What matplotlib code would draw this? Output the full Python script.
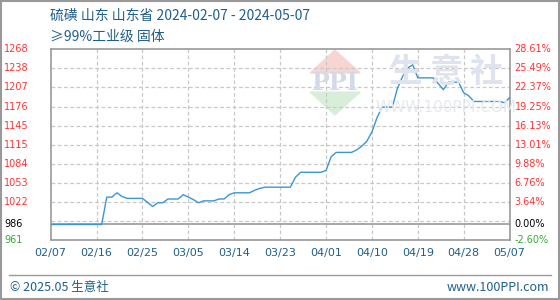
import pandas as pd
import matplotlib
matplotlib.use('Agg')
import matplotlib.pyplot as plt
from matplotlib.patches import Rectangle, Polygon
from matplotlib.lines import Line2D
import numpy as np

# datos: precio del azufre (Shandong), puntos de quiebre de la curva
fechas = ["2024-02-07", "2024-02-17", "2024-02-18", "2024-02-19", "2024-02-20",
          "2024-02-21", "2024-02-22", "2024-02-25", "2024-02-27", "2024-02-28",
          "2024-02-29", "2024-03-01", "2024-03-03", "2024-03-04", "2024-03-05",
          "2024-03-06", "2024-03-07", "2024-03-08", "2024-03-10", "2024-03-11",
          "2024-03-12", "2024-03-13", "2024-03-14", "2024-03-17", "2024-03-18",
          "2024-03-19", "2024-03-20", "2024-03-25", "2024-03-26", "2024-03-27",
          "2024-03-31", "2024-04-01", "2024-04-02", "2024-04-03", "2024-04-06",
          "2024-04-07", "2024-04-08", "2024-04-09", "2024-04-10", "2024-04-11",
          "2024-04-12", "2024-04-14", "2024-04-15", "2024-04-16", "2024-04-17",
          "2024-04-18", "2024-04-19", "2024-04-22", "2024-04-23", "2024-04-24",
          "2024-04-25", "2024-04-27", "2024-04-28", "2024-04-29", "2024-04-30",
          "2024-05-05", "2024-05-06", "2024-05-07"]
precios = [986, 986, 1030, 1030, 1037, 1031, 1028, 1028, 1015, 1021,
           1021, 1027, 1027, 1034, 1030, 1026, 1021, 1024, 1024, 1027,
           1027, 1034, 1037, 1037, 1041, 1044, 1046, 1046, 1062, 1070,
           1070, 1073, 1095, 1102, 1102, 1106, 1112, 1120, 1135, 1158,
           1175, 1175, 1205, 1224, 1238, 1243, 1222, 1222, 1213, 1203,
           1215, 1215, 1198, 1193, 1184, 1184, 1182, 1190]

x_labels = ["02/07", "02/16", "02/25", "03/05", "03/14", "03/23",
            "04/01", "04/10", "04/19", "04/28", "05/07"]
y_labels = ["961", "986", "1022", "1053", "1084", "1115", "1145", "1176", "1207", "1238", "1268"]
pct_labels = ["-2.60%", "0.00%", "3.64%", "6.76%", "9.88%", "13.01%",
              "16.13%", "19.25%", "22.37%", "25.49%", "28.61%"]

AZUL = '#1f5f8b'
ROJO = '#ff3333'
LINEA = '#3a96d6'
CJK = ['Noto Sans CJK SC', 'DejaVu Sans']

fechas = pd.to_datetime(fechas)
inicio = pd.Timestamp("2024-02-07")
fin = pd.Timestamp("2024-05-07")
ymin, ymax = 961, 1268
base = 986

fig = plt.figure(figsize=(5.6, 3.0), dpi=100)
ax = fig.add_axes([0.0905, 0.2, 0.8195, 0.6357])

# grilla: 10 intervalos iguales entre min y max
grid_y = np.linspace(ymin, ymax, 11)
for g in grid_y[1:-1]:
    ax.axhline(g, color='#c8c8c8', lw=0.9, ls=(0, (3, 2)), zorder=1)
x_ticks = pd.date_range(inicio, fin, periods=len(x_labels))
for t in x_ticks[1:-1]:
    ax.axvline(t, color='#c8c8c8', lw=0.9, ls=(0, (3, 2)), zorder=1)
ax.axhline(base, color='#999999', lw=1.2, zorder=2)

# marca de agua (logo + texto)
ax.add_patch(Polygon([[0.554, 0.757], [0.598, 0.833], [0.643, 0.757]], closed=True,
                     transform=fig.transFigure, color='#f7d6d1', zorder=0))
ax.add_patch(Polygon([[0.554, 0.693], [0.598, 0.617], [0.643, 0.693]], closed=True,
                     transform=fig.transFigure, color='#d8eed8', zorder=0))
fig.text(0.598, 0.724, "PPI", ha='center', va='center', fontsize=17, fontweight='bold',
         family='DejaVu Serif', color='#d3d9e6', zorder=0)
for cx, ch in zip([0.725, 0.797, 0.869], "生意社"):
    fig.text(cx, 0.757, ch, ha='center', va='center', fontsize=24, fontweight='bold',
             family=CJK, color='#dfe3ed', zorder=0)
fig.text(0.797, 0.643, "WWW.100PPI.COM", ha='center', va='center', fontsize=11,
         color='#e6e9ef', zorder=0)

ax.plot(fechas, precios, color=LINEA, lw=1.0, zorder=3)

ax.set_xlim(inicio, fin)
ax.set_ylim(ymin, ymax)
ax.set_xticks(x_ticks)
ax.set_xticklabels(x_labels, color=AZUL, fontsize=8)
ax.tick_params(axis='x', length=0, pad=6)
ax.set_yticks([])
for s in ax.spines.values():
    s.set_color('#999999')
    s.set_linewidth(1.2)

# etiquetas de los ejes y (izquierda valores, derecha porcentaje)
pos_y = list(grid_y)
pos_y[1] = base
for i, (p, lab, pct) in enumerate(zip(pos_y, y_labels, pct_labels)):
    if i == 0:
        col = '#33aa33'
    elif i == 1:
        col = 'black'
    else:
        col = ROJO
    ax.text(-0.101, p, lab, transform=ax.get_yaxis_transform(), ha='left', va='center',
            fontsize=7, color=col)
    ax.text(1.011, p, pct, transform=ax.get_yaxis_transform(), ha='left', va='center',
            fontsize=7, color=col)

# titulos
fig.text(0.089, 0.947, "硫磺 山东 山东省 2024-02-07 - 2024-05-07", ha='left', va='center',
         fontsize=10, color=AZUL, family=CJK)
fig.text(0.089, 0.877, "≥99%工业级 固体", ha='left', va='center',
         fontsize=10, color=AZUL, family=CJK)

# pie
fig.add_artist(Line2D([0.016, 0.984], [0.083, 0.083], transform=fig.transFigure,
                      color='#999999', lw=1.0))
fig.text(0.018, 0.042, "© 2025.05 生意社", ha='left', va='center', fontsize=9,
         color=AZUL, family=CJK)
fig.text(0.981, 0.042, "www.100PPI.com", ha='right', va='center', fontsize=9,
         color=AZUL, family=CJK)
fig.add_artist(Rectangle((0.001, 0.002), 0.997, 0.995, transform=fig.transFigure,
                         fill=False, edgecolor='#999999', lw=1.5))

plt.savefig('out.png', dpi=100, facecolor='white')
plt.close()
